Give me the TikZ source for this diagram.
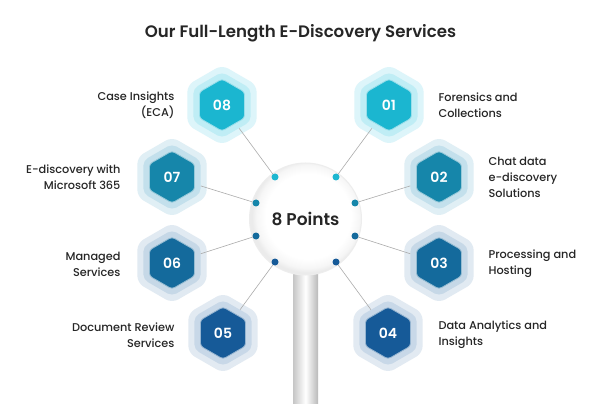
\documentclass[tikz,border=0pt]{standalone}
\usepackage{fontspec}
\setmainfont{Poppins}[BoldFont={Poppins SemiBold}]
\newfontfamily\pmed{Poppins Medium}
\usetikzlibrary{shapes.geometric}
\definecolor{txt}{HTML}{262626}
\definecolor{cA}{HTML}{1BB6D0}\definecolor{hAo}{HTML}{DDF5FA}\definecolor{hAm}{HTML}{BFEDF5}
\definecolor{cB}{HTML}{1686AA}\definecolor{hBo}{HTML}{E0EFF5}\definecolor{hBm}{HTML}{C3E0EC}
\definecolor{cC}{HTML}{146A9C}\definecolor{hCo}{HTML}{E1EAF2}\definecolor{hCm}{HTML}{C6D8E7}
\definecolor{cD}{HTML}{165A98}\definecolor{hDo}{HTML}{E2EAF2}\definecolor{hDm}{HTML}{C8D8E8}
\pgfdeclareradialshading{ballshade}{\pgfpoint{2bp}{2bp}}{color(0bp)=(white); color(19bp)=(white); color(23bp)=(gray!7); color(25bp)=(gray!16); color(50bp)=(gray!16)}
\tikzset{
  hexbase/.style={regular polygon, regular polygon sides=6, shape border rotate=30, inner sep=0pt},
  hexout/.style={hexbase, minimum size=80pt, fill=#1, rounded corners=7pt},
  hexmid/.style={hexbase, minimum size=66pt, fill=#1, rounded corners=5pt},
  hexin/.style={hexbase, minimum size=52pt, fill=#1, draw=white!55!#1, line width=0.8pt, rounded corners=3pt,
     text=white, font=\bfseries\fontsize{14}{14}\selectfont},
  dotnode/.style={circle, fill=#1, minimum size=7pt, inner sep=0pt},
  link/.style={draw=gray!65, line width=0.6pt},
  lblL/.style={anchor=east, align=right, text=txt, font=\pmed\fontsize{11.3}{16}\selectfont},
  lblR/.style={anchor=west, align=left, text=txt, font=\pmed\fontsize{11.3}{16}\selectfont},
}
\begin{document}
\begin{tikzpicture}[x=1pt,y=-1pt]
\useasboundingbox (0,0) rectangle (602,406);
\fill[white] (0,0) rectangle (602,406);
% title
\node[text=txt, font=\bfseries\fontsize{16.6}{18}\selectfont] (title) at (300.5,33) {Our Full-Length E-Discovery Services};
% pole
\shade[left color=gray!45, right color=gray!55, middle color=white] (293,262) rectangle (318,403);
% halos
\node[hexout=hAo] (h8o) at (222,105) {};
\node[hexout=hAo] (h1o) at (389,105) {};
\node[hexout=hBo] (h7o) at (172,177) {};
\node[hexout=hBo] (h2o) at (439,177) {};
\node[hexout=hCo] (h6o) at (172,263) {};
\node[hexout=hCo] (h3o) at (439,263) {};
\node[hexout=hDo] (h5o) at (223,333) {};
\node[hexout=hDo] (h4o) at (388,333) {};
\node[hexmid=hAm] (h8m) at (222,105) {};
\node[hexmid=hAm] (h1m) at (389,105) {};
\node[hexmid=hBm] (h7m) at (172,177) {};
\node[hexmid=hBm] (h2m) at (439,177) {};
\node[hexmid=hCm] (h6m) at (172,263) {};
\node[hexmid=hCm] (h3m) at (439,263) {};
\node[hexmid=hDm] (h5m) at (223,333) {};
\node[hexmid=hDm] (h4m) at (388,333) {};
\node[hexin=cA] (h8) at (222,105) {08};
\node[hexin=cA] (h1) at (389,105) {01};
\node[hexin=cB] (h7) at (172,177) {07};
\node[hexin=cB] (h2) at (439,177) {02};
\node[hexin=cC] (h6) at (172,263) {06};
\node[hexin=cC] (h3) at (439,263) {03};
\node[hexin=cD] (h5) at (223,333) {05};
\node[hexin=cD] (h4) at (388,333) {04};
% ball
\node[circle, minimum size=112pt, inner sep=0pt, shading=ballshade, draw=gray!14, line width=1pt,
      text=txt, font=\bfseries\fontsize{17}{20}\selectfont] (ball) at (305.5,219) {8 Points};
% dots
\node[dotnode=cA] (d8) at (275,177) {};
\node[dotnode=cA] (d1) at (336,177) {};
\node[dotnode=cB] (d7) at (256,203) {};
\node[dotnode=cB] (d2) at (355,203) {};
\node[dotnode=cC] (d6) at (256,236) {};
\node[dotnode=cC] (d3) at (355,236) {};
\node[dotnode=cD] (d5) at (275,262) {};
\node[dotnode=cD] (d4) at (336,262) {};
% links
\draw[link] (d8) -- (h8m);
\draw[link] (d1) -- (h1m);
\draw[link] (d7) -- (h7m);
\draw[link] (d2) -- (h2m);
\draw[link] (d6) -- (h6m);
\draw[link] (d3) -- (h3m);
\draw[link] (d5) -- (h5m);
\draw[link] (d4) -- (h4m);
% labels
\node[lblL] (l8) at (178,105) {Case Insights\\(ECA)};
\node[lblL] (l7) at (124,177) {E-discovery with\\Microsoft 365};
\node[lblL] (l6) at (124,264) {Managed\\Services};
\node[lblL] (l5) at (178,335) {Document Review\\Services};
\node[lblR] (l1) at (435,105) {Forensics and\\Collections};
\node[lblR] (l2) at (485,177) {Chat data\\e-discovery\\Solutions};
\node[lblR] (l3) at (485,264) {Processing and\\Hosting};
\node[lblR] (l4) at (435,335) {Data Analytics and\\Insights};
\end{tikzpicture}
\end{document}
